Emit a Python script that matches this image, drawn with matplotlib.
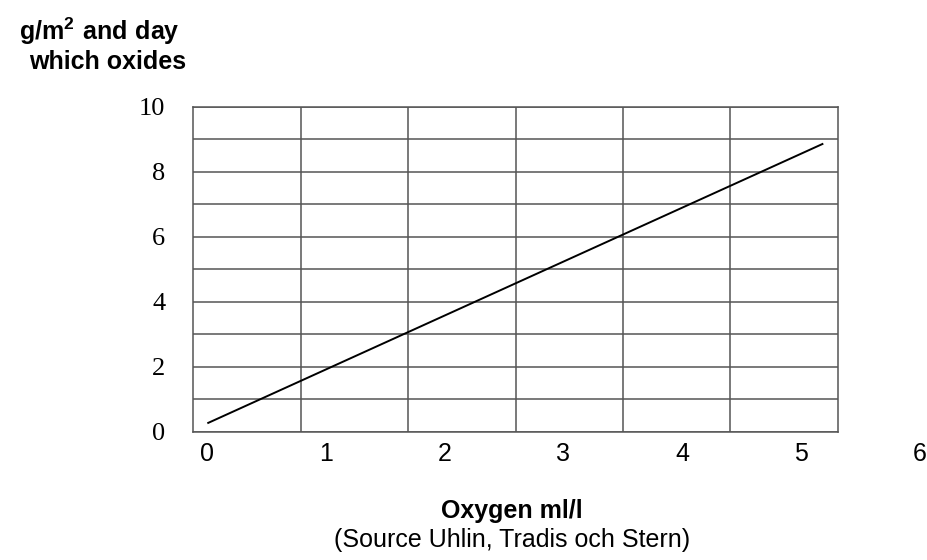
import numpy as np
import matplotlib
matplotlib.use("Agg")
import matplotlib.pyplot as plt

plt.rcParams["mathtext.fontset"] = "custom"
plt.rcParams["mathtext.rm"] = "Liberation Sans:bold"
plt.rcParams["mathtext.bf"] = "Liberation Sans:bold"

# oxygen (ml/l) vs g/m2 and day which oxides
oxygen = [0.01, 5.18]
oxides = [0.28, 8.86]

x_ticks = [0, 1, 2, 3, 4, 5, 6]
y_ticks = [0, 2, 4, 6, 8, 10]

fig = plt.figure(figsize=(9.28, 5.6), dpi=100)
ax = fig.add_axes([0.208, 0.2286, 0.695, 0.5804])

xmin, xmax = -0.118, 5.311
ax.set_xlim(xmin, xmax)
ax.set_ylim(0, 10)

gc = "#555555"
ax.set_yticks(y_ticks)
ax.set_yticks(np.arange(0, 11, 1), minor=True)
ax.set_xticks([])
ax.set_xticks(np.linspace(xmin, xmax, 7)[1:-1], minor=True)
ax.grid(which="minor", color=gc, linewidth=1.1)
ax.grid(which="major", axis="y", color=gc, linewidth=1.1)
ax.tick_params(which="both", length=0)
ax.tick_params(axis="y", pad=20)
for lab in ax.get_yticklabels():
    lab.set_fontfamily("Liberation Serif")
    lab.set_fontsize(19)
    lab.set_verticalalignment("center_baseline")
for s in ax.spines.values():
    s.set_color(gc)
    s.set_linewidth(1.1)

ax.plot(oxygen, oxides, color="black", linewidth=1.4)

# x labels do not line up with the grid in the original
for v in x_ticks:
    ax.text(v, -0.068, str(v), transform=ax.get_xaxis_transform(),
            ha="center", va="center", fontsize=18, family="Liberation Sans",
            clip_on=False)

fig.text(0.107, 0.945, r"$\mathbf{g/m^{2}\ and\ day}$", ha="center", va="center",
         fontsize=18)
fig.text(0.116, 0.889, "which oxides", ha="center", va="center", fontsize=18,
         family="Liberation Sans", fontweight="bold")

fig.text(0.552, 0.088, "Oxygen ml/l", ha="center", va="center", fontsize=18,
         family="Liberation Sans", fontweight="bold")
fig.text(0.552, 0.035, "(Source Uhlin, Tradis och Stern)", ha="center", va="center",
         fontsize=18, family="Liberation Sans")

fig.savefig("out.png", dpi=100)
